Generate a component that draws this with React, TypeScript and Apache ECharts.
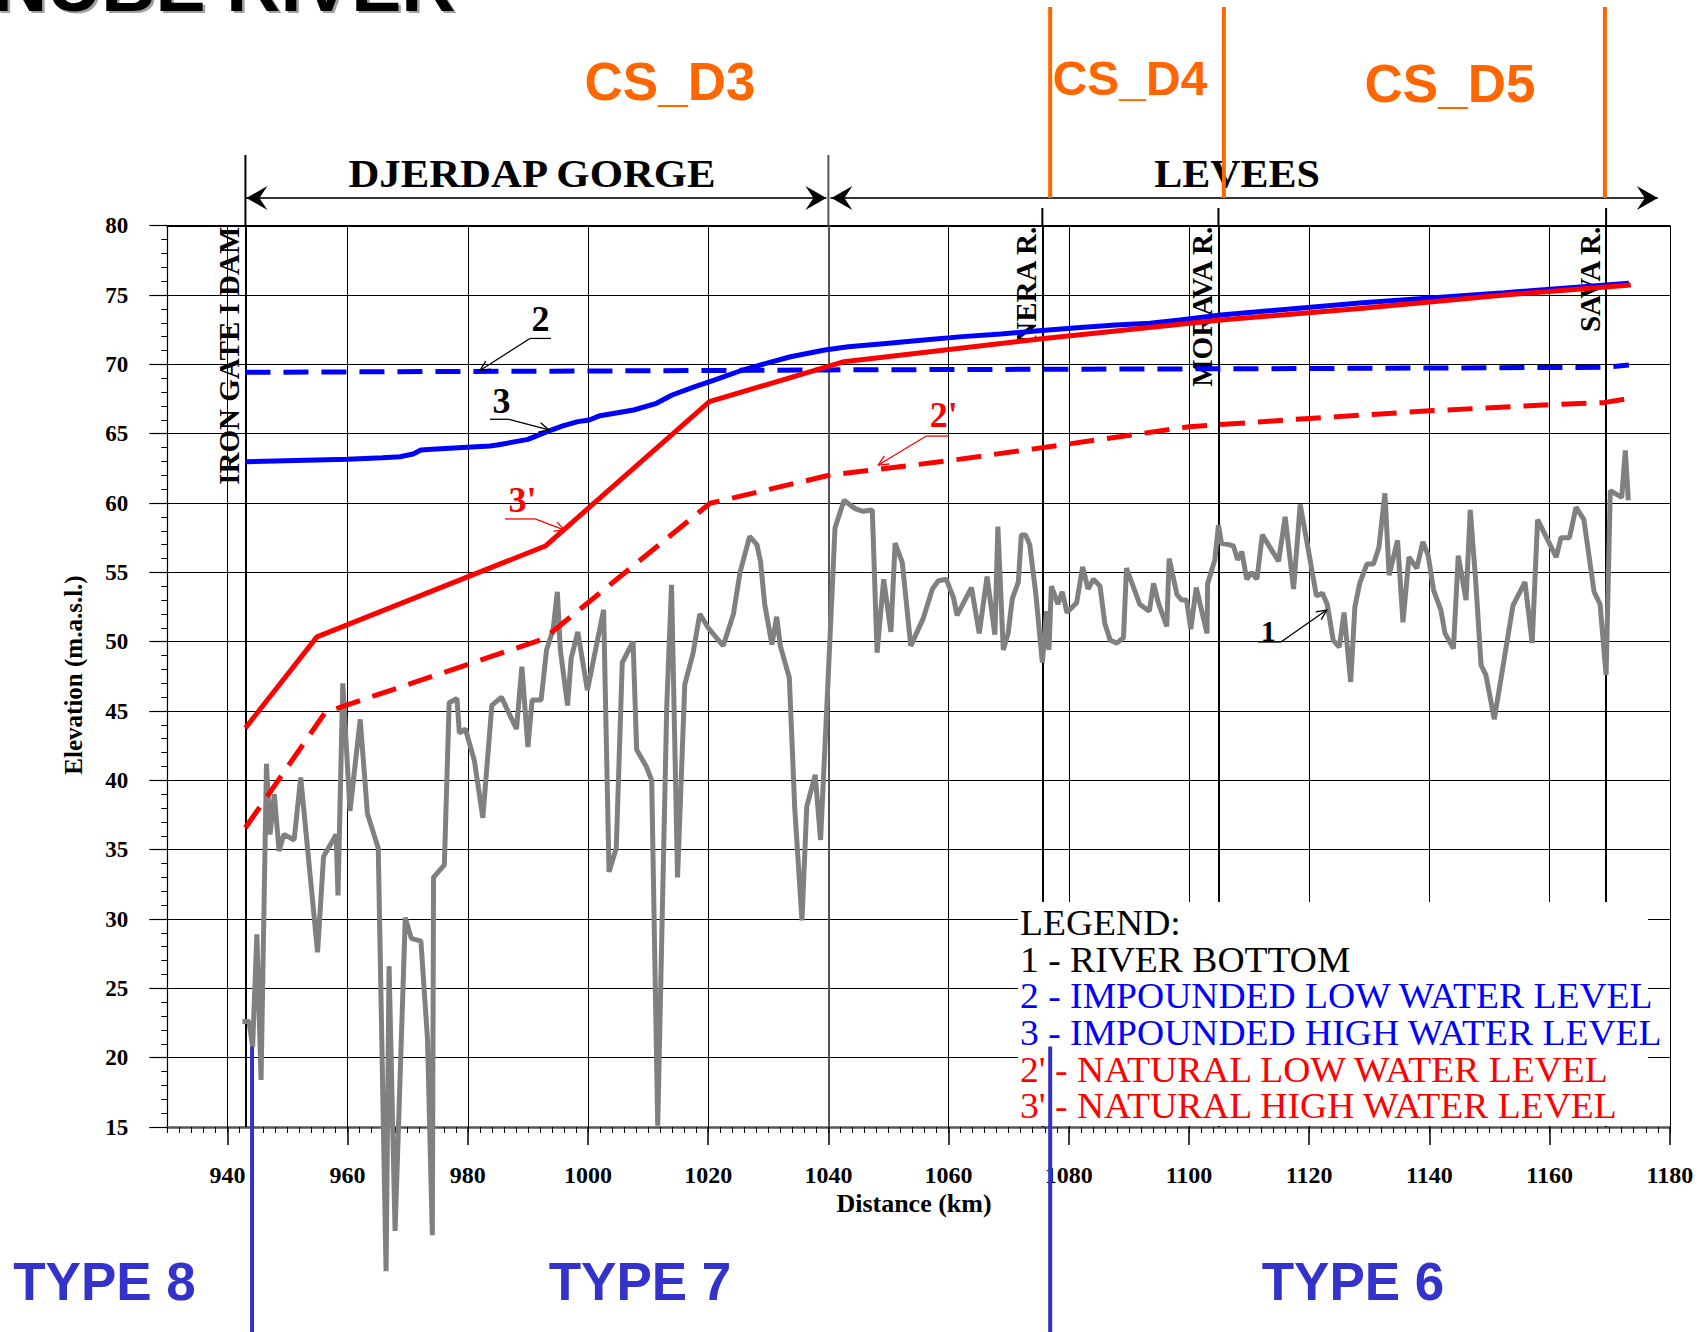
import React, { useEffect, useRef } from 'react';
import * as echarts from 'echarts';

// ---------------- DATA ----------------
// 1 - river bottom [km, m a.s.l.]
const riverBottom: number[][] = [
  [942.5, 22.6], [943.6, 22.6], [944.2, 20.8], [944.9, 28.9], [945.6, 18.4], [946.5, 41.2], [947.1, 36.1],
  [947.8, 39.0], [948.6, 34.9], [949.4, 36.1], [951.1, 35.7], [952.2, 40.2], [953.6, 33.9], [955.0, 27.6],
  [956.0, 34.5], [958.1, 36.1], [958.4, 31.7], [959.2, 47.0], [960.4, 37.8], [962.1, 44.4], [963.3, 37.6],
  [965.1, 35.1], [966.4, 4.6], [966.9, 26.6], [967.9, 7.5], [969.6, 30.1], [970.6, 28.6], [972.2, 28.4],
  [973.3, 21.3], [974.1, 7.2], [974.3, 33.0], [976.1, 33.9], [976.9, 45.6], [978.2, 45.9], [978.6, 43.4],
  [979.6, 43.7], [981.1, 41.4], [982.5, 37.3], [984.0, 45.4], [985.6, 46.0], [988.1, 43.7], [989.0, 48.2],
  [990.0, 42.4], [990.7, 45.8], [992.2, 45.8], [993.1, 49.4], [994.2, 50.9], [994.9, 53.6], [995.4, 49.4],
  [996.6, 45.4], [997.2, 48.8], [998.3, 50.7], [999.9, 46.5], [1002.6, 52.3], [1003.5, 33.4], [1004.7, 35.1],
  [1005.7, 48.5], [1007.5, 50.0], [1008.1, 42.2], [1009.7, 41.0], [1010.6, 40.0], [1011.6, 15.1], [1013.1, 45.3],
  [1013.9, 54.1], [1014.9, 33.0], [1016.1, 46.9], [1017.5, 49.2], [1018.6, 52.0], [1020.0, 51.0], [1022.5, 49.7],
  [1024.2, 52.0], [1025.3, 55.0], [1026.9, 57.6], [1028.1, 57.0], [1028.7, 55.8], [1029.4, 52.7], [1030.6, 49.8],
  [1031.4, 51.8], [1032.0, 49.7], [1033.5, 47.4], [1034.4, 38.0], [1035.6, 29.9], [1036.4, 38.1], [1037.8, 40.4],
  [1038.7, 35.7], [1039.8, 45.9], [1041.1, 58.2], [1042.6, 60.2], [1044.4, 59.6], [1045.8, 59.4], [1047.3, 59.5],
  [1048.1, 49.2], [1049.2, 54.5], [1050.4, 50.7], [1051.1, 57.1], [1052.3, 55.7], [1053.7, 49.7], [1055.8, 51.7],
  [1057.3, 53.8], [1058.3, 54.4], [1059.6, 54.5], [1060.8, 53.2], [1061.4, 51.9], [1063.8, 53.9], [1065.1, 50.6],
  [1066.4, 54.7], [1067.7, 50.5], [1068.2, 58.3], [1069.1, 49.4], [1069.9, 50.6], [1070.6, 53.1], [1071.6, 54.3],
  [1072.1, 57.7], [1072.8, 57.7], [1073.5, 57.0], [1074.5, 53.5], [1075.6, 48.5], [1076.3, 52.2], [1076.7, 49.4],
  [1077.1, 54.0], [1078.2, 52.7], [1078.9, 53.6], [1079.7, 52.1], [1081.3, 52.8], [1082.3, 55.4], [1083.2, 53.8],
  [1084.1, 54.5], [1085.2, 54.0], [1086.0, 51.3], [1086.9, 50.1], [1088.0, 49.9], [1089.1, 50.3], [1089.6, 55.3],
  [1091.8, 52.7], [1093.4, 52.2], [1094.1, 54.2], [1094.9, 52.8], [1096.3, 51.1], [1096.7, 56.0], [1098.0, 53.4],
  [1098.8, 53.0], [1099.6, 53.0], [1100.3, 50.9], [1101.2, 53.9], [1103.0, 50.6], [1103.1, 54.2], [1104.3, 55.9],
  [1104.9, 58.4], [1105.4, 57.1], [1106.6, 57.0], [1107.4, 56.9], [1108.1, 55.9], [1108.8, 56.5], [1109.6, 54.5],
  [1110.4, 55.0], [1111.3, 54.5], [1112.2, 57.7], [1114.9, 55.8], [1116.0, 59.0], [1117.4, 53.8], [1118.5, 59.9],
  [1119.9, 56.5], [1121.2, 53.3], [1122.2, 53.5], [1123.0, 52.7], [1124.0, 50.1], [1125.0, 49.6], [1125.8, 52.1],
  [1126.9, 47.1], [1127.6, 52.5], [1128.4, 54.2], [1129.6, 55.6], [1130.7, 55.6], [1131.6, 56.8], [1132.6, 60.7],
  [1133.3, 54.8], [1134.7, 57.3], [1135.6, 51.4], [1136.6, 56.1], [1137.9, 55.3], [1138.9, 57.2], [1139.8, 56.2],
  [1140.7, 53.7], [1141.9, 52.3], [1142.6, 50.6], [1144.0, 49.5], [1144.8, 56.2], [1146.1, 53.0], [1146.8, 59.5],
  [1147.7, 54.4], [1148.6, 48.3], [1149.4, 47.6], [1150.8, 44.4], [1153.9, 52.6], [1155.9, 54.3], [1157.1, 49.9],
  [1158.0, 58.8], [1161.1, 56.1], [1161.9, 57.5], [1163.3, 57.5], [1164.4, 59.7], [1165.7, 58.8], [1167.4, 53.6],
  [1168.4, 52.7], [1169.4, 47.6], [1170.1, 60.9], [1172.0, 60.4], [1172.6, 63.8], [1173.1, 60.2],
];

// 2 - impounded low water level
const impoundedLow: number[][] = [
  [943, 69.43], [1000, 69.52], [1040, 69.6], [1080, 69.65], [1120, 69.7], [1169, 69.79], [1173.2, 69.95],
];

// 3 - impounded high water level
const impoundedHigh: number[][] = [
  [943, 62.98], [960, 63.15], [965.8, 63.27], [968.7, 63.34], [970.9, 63.53], [972.2, 63.82], [974.1, 63.87],
  [979.9, 64.02], [983.7, 64.11], [984.9, 64.18], [990, 64.59], [993.2, 65.15], [995.8, 65.56], [998.3, 65.87],
  [1000.2, 65.99], [1002, 66.3], [1007.6, 66.71], [1011.4, 67.19], [1014, 67.79], [1017.8, 68.39], [1021, 68.87],
  [1025.4, 69.54], [1028.6, 69.95], [1033.7, 70.55], [1039.4, 71.04], [1043.3, 71.27], [1049.6, 71.51],
  [1055.9, 71.75], [1062.3, 72.0], [1068.7, 72.19], [1075, 72.43], [1081.4, 72.64], [1087.8, 72.84],
  [1093.5, 72.96], [1098.5, 73.2], [1105.3, 73.56], [1128.9, 74.45], [1152.5, 75.17], [1173.2, 75.85],
];

// 2' - natural low water level
const naturalLow: number[][] = [
  [943, 36.58], [956.3, 44.91], [992.6, 50.2], [1020.3, 59.98], [1040.1, 62.0], [1060, 63.05], [1080, 64.26],
  [1100, 65.5], [1120, 66.1], [1140, 66.65], [1160, 67.09], [1169, 67.24], [1173.5, 67.56],
];

// 3' - natural high water level
const naturalHigh: number[][] = [
  [943, 43.78], [954.9, 50.35], [992.9, 56.9], [1020.2, 67.31], [1042.6, 70.19], [1075.5, 71.85],
  [1105.3, 73.2], [1128.9, 74.04], [1152.5, 75.0], [1173.5, 75.72],
];

const xTickValues = [940, 960, 980, 1000, 1020, 1040, 1060, 1080, 1100, 1120, 1140, 1160, 1180];
const yMin = 15;
const yMax = 80;
const xMin = 930;
const xMax = 1180;

const riverPoints = [
  { label: 'IRON GATE I DAM', km: 943.0 },
  { label: 'NERA R.', km: 1075.6 },
  { label: 'MORAVA R.', km: 1104.9 },
  { label: 'SAVA R.', km: 1169.4 },
];
const gorgeEndKm = 1040;
const leveesEndKm = 1178.0;
const sectionBoundaryKm = [1076.9, 1105.8, 1169.2];
const sectionNames = ['CS_D3', 'CS_D4', 'CS_D5'];
const typeBoundaryKm = [944.1, 1076.9];
const typeBoundaryTop = 20.8;
const typeNames = ['TYPE 8', 'TYPE 7', 'TYPE 6'];
const reachNames = ['DJERDAP GORGE', 'LEVEES'];

const legendLines = [
  'LEGEND:',
  '1 - RIVER BOTTOM',
  '2 - IMPOUNDED LOW WATER LEVEL',
  '3 - IMPOUNDED HIGH WATER LEVEL',
  "2' - NATURAL LOW WATER LEVEL",
  "3' - NATURAL HIGH WATER LEVEL",
];

// curve call-outs in data coordinates
const callouts = [
  { text: '2', kind: 'black', at: [992.09, 73.24], u: [990.34, 993.83, 71.87], from: [990.34, 71.87], tip: [982.03, 69.56] },
  { text: '3', kind: 'black', at: [985.6, 67.36], u: [983.69, 986.85, 66.04], from: [986.85, 66.04], tip: [993.5, 65.27] },
  { text: "3'", kind: 'red', at: [989.1, 60.22], u: [986.2, 991.2, 58.85], from: [991.2, 58.85], tip: [996.1, 58.05] },
  { text: "2'", kind: 'red', at: [1059.2, 66.35], u: [1056.3, 1059.9, 64.83], from: [1056.3, 64.83], tip: [1048.3, 62.74] },
  { text: '1', kind: 'small', at: [1113.2, 50.84], u: [1111.5, 1115.3, 49.98], from: [1115.3, 49.98], tip: [1122.9, 52.28] },
];

// ---------------- STYLE ----------------
const SERIF = '"Liberation Serif", "Times New Roman", serif';
const SANS = '"Liberation Sans", Arial, sans-serif';
const ORANGE = '#FF6600';
const TYPE_BLUE = '#3333CC';
const BLUE = '#0000FF';
const RED = '#FF0000';
const GREY = '#808080';

const GRID = { left: 167.3, right: 36.2, top: 225.7, bottom: 205 };

export default function App() {
  const ref = useRef<HTMLDivElement>(null);

  useEffect(() => {
    if (!ref.current) return;
    const chart = echarts.init(ref.current, null, { renderer: 'svg' });

    const axisFont = { fontFamily: SERIF, fontWeight: 'bold' as const, color: '#000' };

    const markLineData: any[] = xTickValues.map((k) => ({ xAxis: k, lineStyle: { width: 1, color: '#000', type: 'solid' } }));
    riverPoints.forEach((r) => markLineData.push({ xAxis: r.km, lineStyle: { width: 2, color: '#000', type: 'solid' } }));
    markLineData.push({ xAxis: gorgeEndKm, lineStyle: { width: 2, color: '#555', type: 'solid' } });

    const option: any = {
      animation: false,
      backgroundColor: '#fff',
      grid: { ...GRID, containLabel: false, outerBoundsMode: 'none' },
      xAxis: [
        {
          type: 'value', min: xMin, max: xMax, interval: 10, position: 'bottom',
          axisLine: { show: true, onZero: false, lineStyle: { color: '#555', width: 2.5 } },
          axisTick: { show: true, length: 18, customValues: xTickValues, lineStyle: { color: '#000', width: 1.5 } },
          axisLabel: {
            show: true, customValues: xTickValues, margin: 36, fontSize: 24, ...axisFont,
            formatter: (v: number) => String(v),
          },
          splitLine: { show: false },
        },
        {
          type: 'value', min: xMin, max: xMax, interval: 2, position: 'bottom',
          axisLine: { show: false, onZero: false },
          axisTick: { show: true, length: 6, lineStyle: { color: '#000', width: 1 } },
          axisLabel: { show: false },
          splitLine: { show: false },
        },
        {
          type: 'value', min: xMin, max: xMax, interval: 10, position: 'top',
          axisLine: { show: true, onZero: false, lineStyle: { color: '#000', width: 2 } },
          axisTick: { show: false },
          axisLabel: { show: false },
          splitLine: { show: false },
        },
      ],
      yAxis: {
        type: 'value', min: yMin, max: yMax, interval: 5,
        axisLine: { show: true, lineStyle: { color: '#000', width: 1.2 } },
        axisTick: { show: true, length: 18, lineStyle: { color: '#000', width: 1.2 } },
        minorTick: { show: true, splitNumber: 5, length: 6, lineStyle: { color: '#000', width: 1 } },
        axisLabel: { margin: 39, fontSize: 23, ...axisFont },
        splitLine: { show: true, lineStyle: { color: '#000', width: 1 } },
      },
      series: [
        {
          name: '1 - RIVER BOTTOM', type: 'line', data: riverBottom, showSymbol: false, clip: false,
          lineStyle: { color: GREY, width: 5 }, z: 3,
          markLine: {
            silent: true, symbol: ['none', 'none'], z: 1, label: { show: false }, emphasis: { disabled: true },
            data: markLineData,
          },
        },
        { name: '2', type: 'line', data: impoundedLow, showSymbol: false, lineStyle: { color: BLUE, width: 5, type: [25, 13] }, z: 4 },
        { name: '3', type: 'line', data: impoundedHigh, showSymbol: false, lineStyle: { color: BLUE, width: 5 }, z: 4 },
        { name: "2'", type: 'line', data: naturalLow, showSymbol: false, lineStyle: { color: RED, width: 5, type: [25, 13] }, z: 4 },
        { name: "3'", type: 'line', data: naturalHigh, showSymbol: false, lineStyle: { color: RED, width: 5 }, z: 5 },
      ],
    };
    chart.setOption(option);

    const P = (km: number, v: number) => chart.convertToPixel({ seriesIndex: 0 }, [km, v]) as number[];
    const X = (km: number) => P(km, yMax)[0];
    const plotTop = P(xMin, yMax)[1];

    const g: any[] = [];
    const text = (x: number, y: number, t: string, font: string, fill: string, align = 'center', extra: any = {}) =>
      g.push({ type: 'text', x, y, z: 20, silent: true, style: { text: t, font, fill, align, verticalAlign: 'middle' }, ...extra });
    const line = (x1: number, y1: number, x2: number, y2: number, stroke: string, lineWidth: number, z = 20) =>
      g.push({ type: 'line', z, silent: true, shape: { x1, y1, x2, y2 }, style: { stroke, lineWidth } });

    // title (cut at the top edge, as in the source figure)
    text(458, -13, 'DANUBE RIVER', `bold 75px ${SANS}`, '#a0a0a0', 'right');
    text(455.5, -15, 'DANUBE RIVER', `bold 75px ${SANS}`, '#000', 'right');

    // cross-section labels and boundaries
    const csPos = [[670, 81, 53], [1130, 78.5, 48], [1450, 83.5, 53]];
    sectionNames.forEach((n, i) => text(csPos[i][0], csPos[i][1], n, `bold ${csPos[i][2]}px ${SANS}`, ORANGE));
    sectionBoundaryKm.forEach((k) => line(X(k), 7, X(k), 198, ORANGE, 4, 21));

    // reach headers with dimension arrows
    const arrowY = 198;
    text(532, 173, reachNames[0], `bold 40px ${SERIF}`, '#000', 'center', { scaleX: 1.07 });
    text(1237, 173, reachNames[1], `bold 40px ${SERIF}`, '#000', 'center', { scaleX: 1.05 });
    const head = (tx: number, dir: number) =>
      g.push({
        type: 'polygon', z: 20, silent: true,
        shape: { points: [[tx, arrowY], [tx + dir * 21, arrowY - 12], [tx + dir * 13, arrowY], [tx + dir * 21, arrowY + 12]] },
        style: { fill: '#000' },
      });
    const xIron = X(riverPoints[0].km);
    const xGorgeEnd = X(gorgeEndKm);
    const xLeveesEnd = X(leveesEndKm);
    line(xIron, arrowY, xGorgeEnd - 2, arrowY, '#333', 2);
    head(xIron + 1, 1);
    head(xGorgeEnd - 2, -1);
    line(xGorgeEnd + 2, arrowY, xLeveesEnd, arrowY, '#333', 2);
    head(xGorgeEnd + 3, 1);
    head(xLeveesEnd, -1);
    line(xIron, 155, xIron, plotTop, '#000', 2);
    line(xGorgeEnd, 155, xGorgeEnd, plotTop, '#555', 2);
    riverPoints.slice(1).forEach((r) => line(X(r.km), 208, X(r.km), plotTop, '#000', 2));

    // vertical river labels
    riverPoints.forEach((r) =>
      g.push({
        type: 'text', x: X(r.km) - 16, y: plotTop + 1, rotation: Math.PI / 2, z: 1, silent: true,
        style: { text: r.label, font: `bold 29px ${SERIF}`, fill: '#000', align: 'right', verticalAlign: 'middle' },
      })
    );

    // call-outs
    callouts.forEach((c) => {
      const col = c.kind === 'red' ? RED : '#000';
      const size = c.kind === 'small' ? 30 : 36;
      const [tx, ty] = P(c.at[0], c.at[1]);
      text(tx, ty, c.text, `bold ${size}px ${SERIF}`, col);
      const [ux1, uy] = P(c.u[0], c.u[2]);
      const [ux2] = P(c.u[1], c.u[2]);
      line(ux1, uy, ux2, uy, col, 1.3);
      const [fx, fy] = P(c.from[0], c.from[1]);
      const [px, py] = P(c.tip[0], c.tip[1]);
      line(fx, fy, px, py, col, 1.3);
      const a = Math.atan2(py - fy, px - fx);
      const L = 11;
      g.push({
        type: 'polyline', z: 20, silent: true,
        shape: { points: [[px - L * Math.cos(a - 0.45), py - L * Math.sin(a - 0.45)], [px, py], [px - L * Math.cos(a + 0.45), py - L * Math.sin(a + 0.45)]] },
        style: { stroke: col, lineWidth: 1.3, fill: 'none' },
      });
    });

    // legend box
    g.push({ type: 'rect', z: 10, silent: true, shape: { x: 1018, y: 902, width: 630, height: 224 }, style: { fill: '#fff' } });
    const legendColors = ['#000', '#000', BLUE, BLUE, RED, RED];
    legendLines.forEach((t, i) => {
      const ly = 923 + i * 36.6;
      text(1020, ly, t, `36px ${SERIF}`, legendColors[i], 'left', { scaleX: 1.045 });
    });

    // type boundaries
    typeBoundaryKm.forEach((k) => {
      const [bx, by] = P(k, typeBoundaryTop);
      line(bx, by, bx, 1332, TYPE_BLUE, 4, 15);
    });
    const typeX = [104.5, 640, 1353];
    typeNames.forEach((n, i) => text(typeX[i], 1281, n, `bold 53px ${SANS}`, TYPE_BLUE));

    // axis titles
    text(914, 1203, 'Distance (km)', `bold 26px ${SERIF}`, '#000');
    g.push({
      type: 'text', x: 73, y: 675, rotation: Math.PI / 2, z: 20, silent: true,
      style: { text: 'Elevation (m.a.s.l.)', font: `bold 25px ${SERIF}`, fill: '#000', align: 'center', verticalAlign: 'middle' },
    });

    chart.setOption({ graphic: { elements: g } });

    return () => chart.dispose();
  }, []);

  return (
    <div
      ref={ref}
      style={{ position: 'fixed', left: 0, top: 0, width: 1706, height: 1332, background: '#fff' }}
    />
  );
}
